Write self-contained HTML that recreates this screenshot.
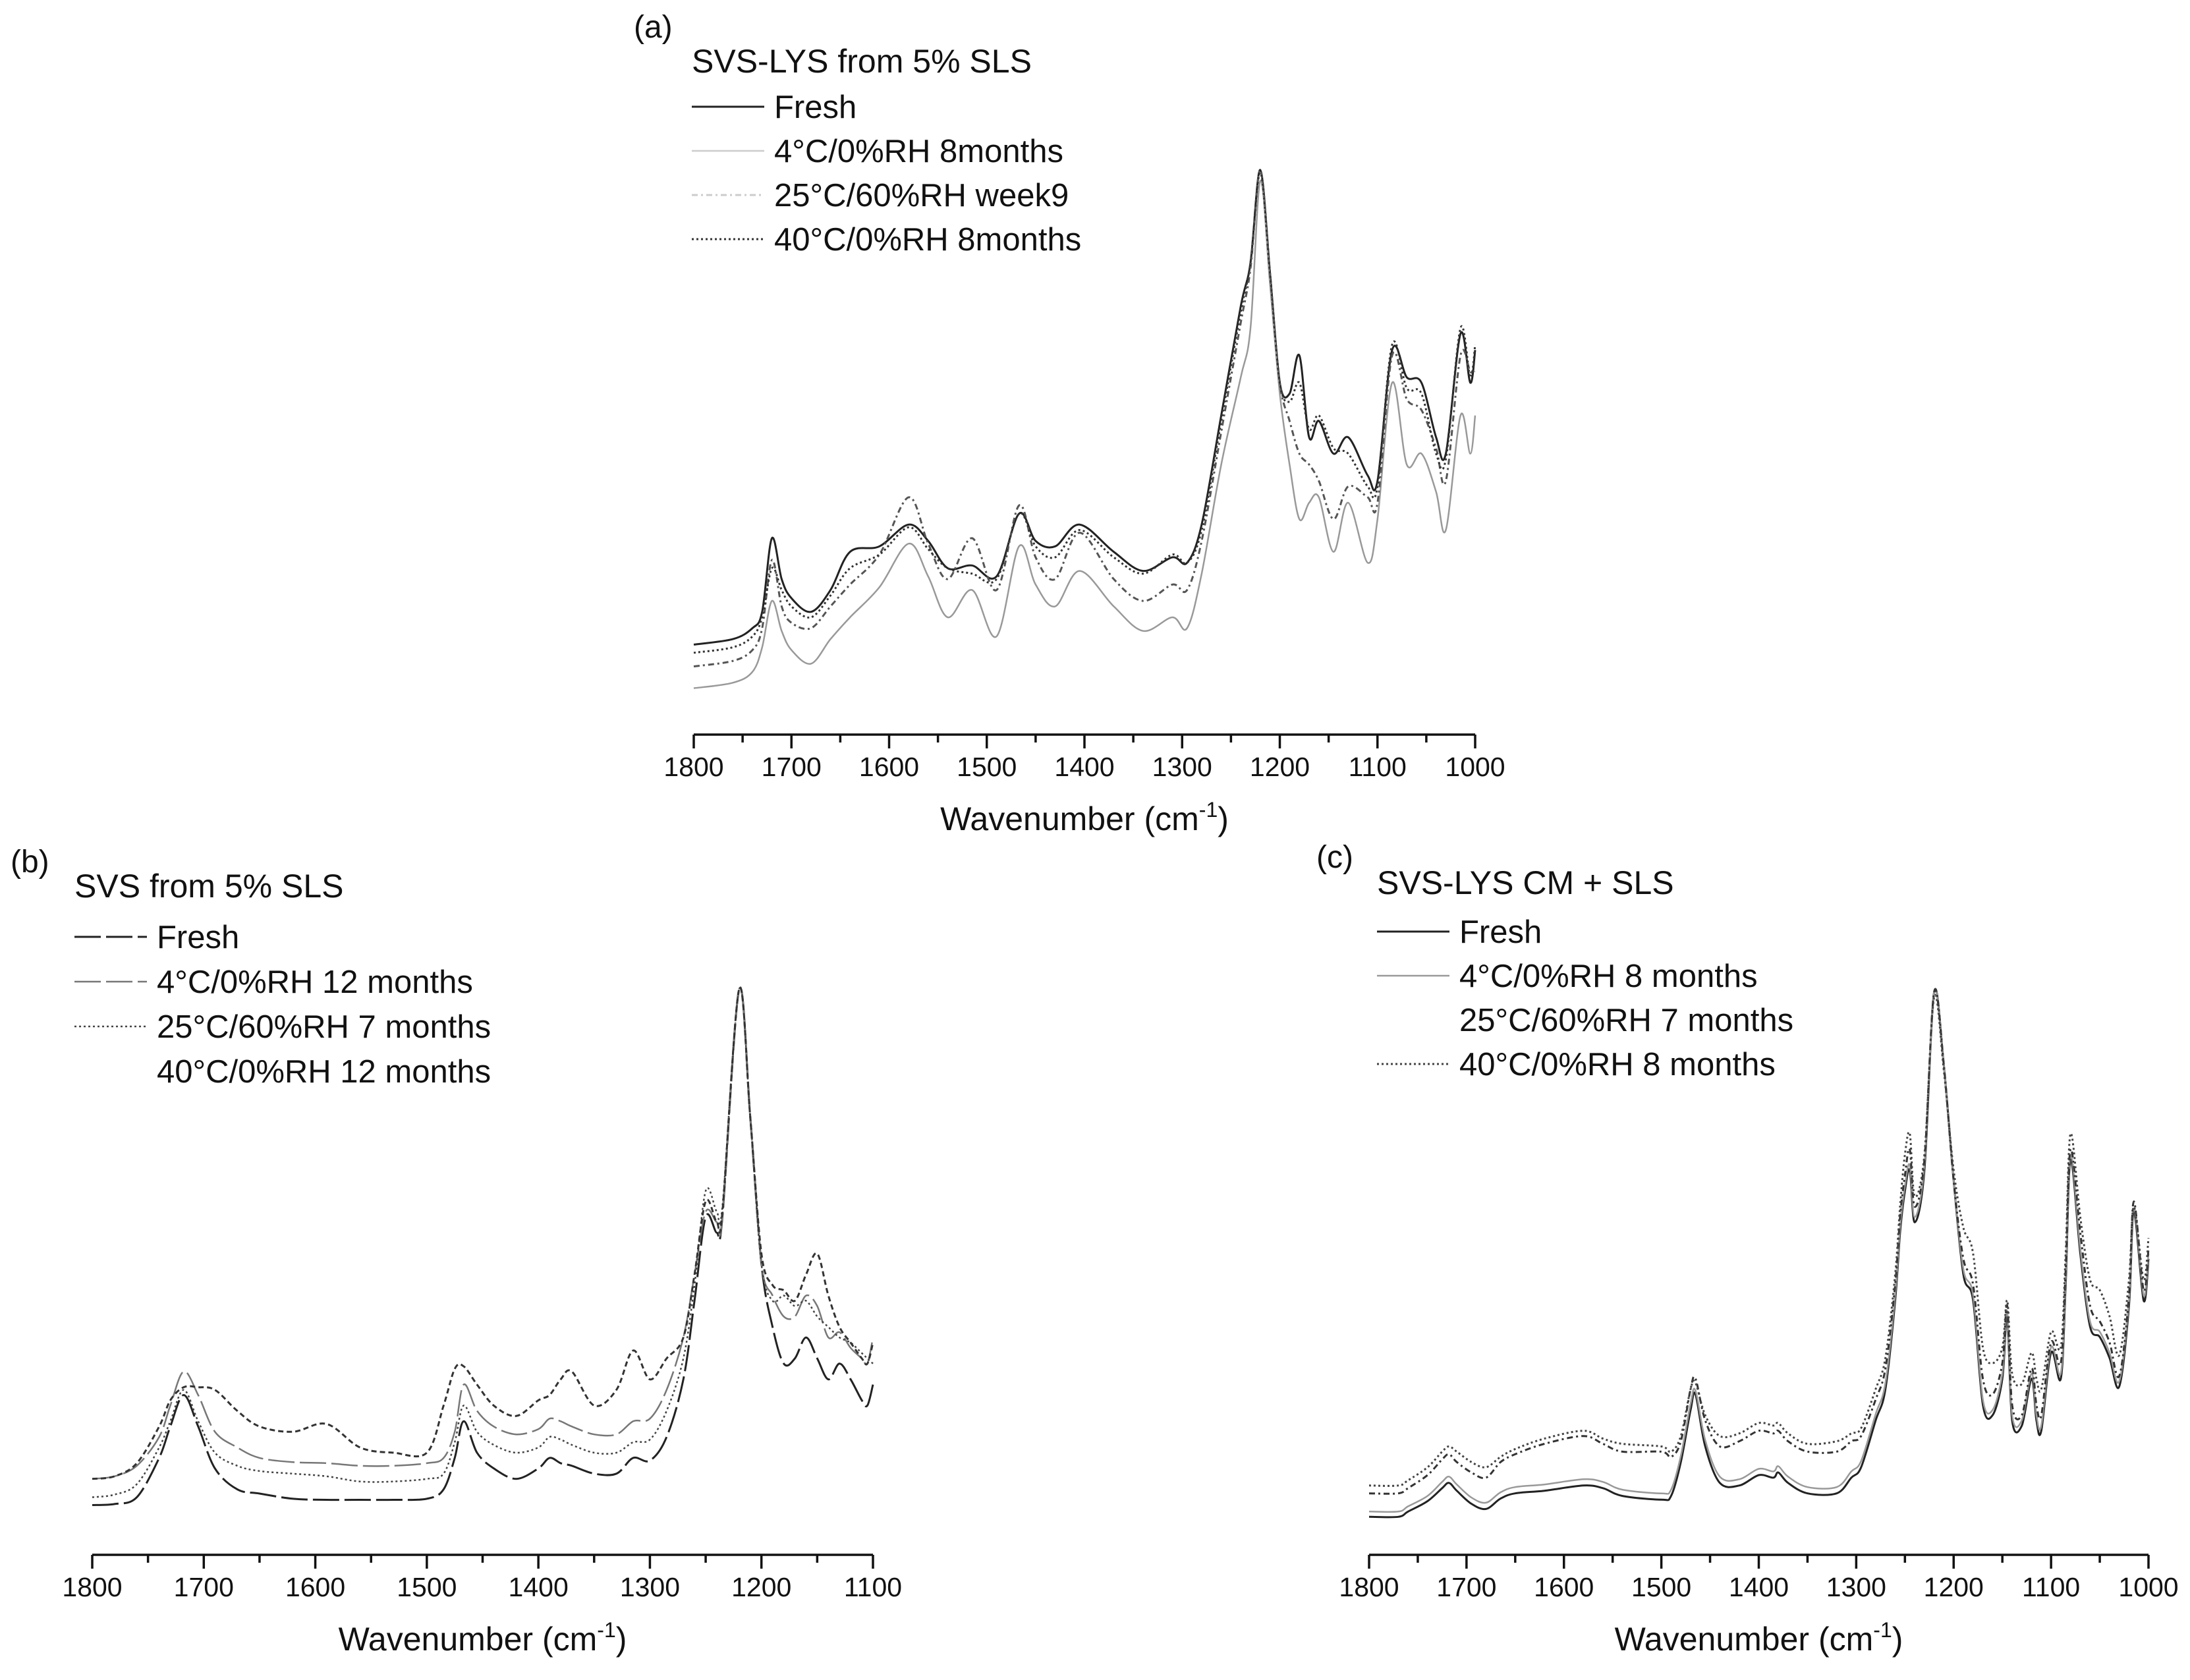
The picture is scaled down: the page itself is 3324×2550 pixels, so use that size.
<!DOCTYPE html>
<html><head><meta charset="utf-8"><style>
html,body{margin:0;padding:0;background:#fff;}
svg{display:block;}
text{font-family:"Liberation Sans",Arial,sans-serif;fill:#111;}
</style></head><body>
<svg id="fig" width="3324" height="2550" viewBox="0 0 3324 2550" xmlns="http://www.w3.org/2000/svg">
<rect width="3324" height="2550" fill="#fff"/>
</svg>
<script>
// ---------- Panel (a) data ----------
const xA = [1800,1760,1740,1730,1720,1710,1700,1680,1660,1640,1610,1580,1560,1540,1515,1490,1467,1450,1430,1405,1370,1340,1310,1295,1280,1260,1240,1230,1220,1210,1200,1190,1180,1170,1160,1145,1130,1110,1100,1085,1070,1055,1040,1030,1015,1005,1000];
const aFresh = [165,175,195,225,360,285,250,225,265,335,345,385,355,305,310,290,405,355,345,385,335,300,325,315,385,585,785,865,1035,845,645,625,695,545,575,515,545,475,465,705,655,645,545,515,735,645,705];
const a4C = [85,95,115,160,245,190,155,130,175,215,270,350,290,215,265,180,345,275,235,300,235,190,215,195,295,495,655,745,1015,825,625,495,395,425,435,335,425,315,395,645,495,515,445,375,585,515,585];
const a25C = [125,135,155,195,320,235,205,195,235,275,330,435,350,285,360,265,420,325,285,370,285,245,275,265,355,555,755,855,1035,845,645,575,515,495,465,395,455,435,425,695,615,595,525,465,695,665,665];
const a40C = [150,160,180,215,305,265,235,215,255,305,330,380,340,305,295,285,405,345,325,375,325,295,330,315,375,575,775,865,1030,845,645,610,645,560,585,525,515,455,455,715,635,625,515,505,745,655,715];
const ticksA = [1800,1700,1600,1500,1400,1300,1200,1100,1000];
const legendA = ["Fresh","4°C/0%RH 8months","25°C/60%RH week9","40°C/0%RH 8months"];

// ---------- Panel (b) data ----------
const xB = [1800,1780,1760,1740,1730,1718,1705,1690,1670,1650,1620,1590,1560,1530,1500,1485,1475,1467,1455,1440,1420,1400,1390,1380,1370,1350,1330,1315,1300,1285,1270,1260,1250,1240,1235,1220,1210,1200,1190,1180,1170,1160,1150,1140,1130,1120,1110,1105,1100];
const bFresh = [95,97,110,185,245,305,245,165,125,117,107,105,105,105,107,125,185,255,195,165,145,165,185,175,170,155,155,185,180,225,335,485,645,615,645,1080,835,555,435,365,375,415,375,335,365,335,295,285,325];
const b4C = [145,150,170,225,285,350,305,235,205,185,177,175,170,170,175,185,235,325,275,245,230,240,260,255,245,230,230,255,260,315,415,535,655,635,645,1080,835,555,495,455,455,495,475,415,425,395,375,365,415];
const b25C = [110,115,135,205,255,315,255,195,170,160,155,150,140,140,145,155,215,285,235,210,195,205,225,220,210,195,195,215,220,275,375,515,695,655,665,1080,835,555,485,495,475,485,455,435,415,405,385,375,365];
const b40C = [145,150,175,245,295,320,320,315,275,245,235,250,205,195,195,285,355,360,325,285,265,295,305,335,350,285,315,390,335,375,415,535,675,635,655,1080,835,575,515,505,485,535,575,495,435,405,375,365,405];
const ticksB = [1800,1700,1600,1500,1400,1300,1200,1100];
const legendB = ["Fresh","4°C/0%RH 12 months","25°C/60%RH 7 months","40°C/0%RH 12 months"];

// ---------- Panel (c) data ----------
const xC = [1800,1770,1760,1740,1725,1718,1710,1695,1680,1665,1650,1620,1580,1560,1540,1500,1490,1480,1470,1465,1455,1440,1420,1400,1385,1380,1370,1350,1320,1305,1295,1280,1270,1260,1255,1250,1245,1240,1230,1220,1210,1200,1190,1180,1170,1160,1150,1145,1140,1130,1120,1115,1110,1100,1090,1085,1080,1070,1060,1050,1040,1030,1020,1015,1005,1000];
const cFresh = [73,73,83,103,128,138,123,98,88,108,118,123,133,128,113,106,113,178,278,308,208,138,133,153,148,158,138,118,118,148,168,258,318,488,618,698,738,638,738,1080,938,718,538,488,288,268,338,458,258,248,338,258,238,388,338,518,758,578,438,418,378,323,478,658,488,568];
const c4C = [83,83,93,113,140,150,135,110,100,120,130,135,145,140,125,118,125,190,290,315,220,150,145,165,160,170,150,130,130,160,180,270,330,498,628,708,748,648,748,1080,938,718,548,498,298,278,348,468,268,258,348,268,248,398,348,528,768,588,448,428,388,333,488,665,498,578];
const c25C = [118,118,128,153,183,193,178,158,148,178,193,213,228,213,198,198,188,218,318,338,258,208,218,238,233,238,218,198,198,218,228,298,358,518,648,728,778,668,758,1080,938,718,568,518,338,308,368,478,288,268,358,288,268,408,368,548,778,618,478,448,408,343,498,678,508,588];
const c40C = [133,133,143,168,198,208,198,178,168,188,203,223,238,223,213,208,198,228,318,330,268,228,233,253,248,253,233,213,218,233,243,318,378,538,668,768,808,688,768,1070,928,738,628,578,398,368,398,488,348,328,388,338,318,428,398,578,808,648,528,508,458,383,528,668,528,608];
const ticksC = [1800,1700,1600,1500,1400,1300,1200,1100,1000];
const legendC = ["Fresh","4°C/0%RH 8 months","25°C/60%RH 7 months","40°C/0%RH 8 months"];

const NS = "http://www.w3.org/2000/svg";
const svg = document.getElementById('fig');
function mk(tag, attrs, parent){
  const e = document.createElementNS(NS, tag);
  for (const k in attrs) e.setAttribute(k, attrs[k]);
  (parent||svg).appendChild(e);
  return e;
}
function smoothPath(pts){
  let d = "M" + pts[0][0].toFixed(1) + "," + pts[0][1].toFixed(1);
  for (let i=0;i<pts.length-1;i++){
    const p0 = pts[Math.max(0,i-1)], p1 = pts[i], p2 = pts[i+1], p3 = pts[Math.min(pts.length-1,i+2)];
    const c1x = p1[0] + (p2[0]-p0[0])/6, c1y = p1[1] + (p2[1]-p0[1])/6;
    const c2x = p2[0] - (p3[0]-p1[0])/6, c2y = p2[1] - (p3[1]-p1[1])/6;
    d += " C" + c1x.toFixed(1)+","+c1y.toFixed(1)+" "+c2x.toFixed(1)+","+c2y.toFixed(1)+" "+p2[0].toFixed(1)+","+p2[1].toFixed(1);
  }
  return d;
}

function drawPanel(cfg){
  const g = mk('g', {});
  
  
  const xs = v => cfg.x0 + (cfg.xmax - v) / (cfg.xmax - cfg.xmin) * (cfg.x1 - cfg.x0);
  const ys = v => cfg.axisY - v * cfg.k;

  const ax = mk('line', {x1:cfg.x0, y1:cfg.axisY, x2:cfg.x1, y2:cfg.axisY, stroke:'#111','stroke-width':3.5}, g);
  
  
  for (let v = cfg.xmax; v >= cfg.xmin; v -= 50){
    const major = (v % 100 === 0);
    const t = mk('line', {x1:xs(v), y1:cfg.axisY, x2:xs(v), y2:cfg.axisY + (major?21:12), stroke:'#111','stroke-width':3.5}, g);
    
    
  }
  cfg.ticks.forEach(v => {
    const t = mk('text', {x:xs(v), y:cfg.axisY + 63, 'font-size':41, 'text-anchor':'middle'}, g);
    t.textContent = v;
    
    
  });
  const title = mk('text', {x:(cfg.x0+cfg.x1)/2, y:cfg.axisY + 145, 'font-size':50, 'text-anchor':'middle'}, g);
  
  
  title.appendChild(document.createTextNode('Wavenumber (cm'));
  const sup = mk('tspan', {dy:-20, 'font-size':32}, title);
  sup.textContent = '-1';
  const cl = mk('tspan', {dy:20}, title);
  cl.textContent = ')';

  const pl = mk('text', {x:cfg.letterX, y:cfg.letterY, 'font-size':48}, g);
  pl.textContent = cfg.letter;
  
  

  cfg.series.forEach((s, si) => {
    const pts = cfg.xs.map((xv, i) => [xs(xv), ys(s.values[i])]);
    const p = mk('path', {d:smoothPath(pts), fill:'none', stroke:s.color, 'stroke-width':s.w, 'stroke-dasharray':s.dash, 'stroke-linejoin':'round'}, g);
    
    
  });

  const lt = mk('text', {x:cfg.legX, y:cfg.legTitleY, 'font-size':50}, g);
  lt.textContent = cfg.legTitle;
  
  
  cfg.series.forEach((s, i) => {
    const ly = cfg.legY0 + i * cfg.legStep;
    const l = mk('line', {x1:cfg.legX, y1:ly, x2:cfg.legX + 110, y2:ly, stroke:s.legColor || s.color, 'stroke-width':s.w, 'stroke-dasharray':s.dash}, g);
    
    
    const t = mk('text', {x:cfg.legX + 125, y:ly + 17, 'font-size':49}, g);
    t.textContent = cfg.legend[i];
    
    
  });
}

drawPanel({name:'panel-a', letter:'(a)', letterX:962, letterY:57,
  x0:1053, x1:2239, xmax:1800, xmin:1000, axisY:1115, k:0.828, xs:xA, ticks:ticksA,
  legX:1050, legTitle:'SVS-LYS from 5% SLS', legTitleY:110, legY0:162, legStep:67, legend:legendA,
  series:[
    {id:'fresh', values:aFresh, color:'#222', w:3, dash:'none'},
    {id:'4c', values:a4C, color:'#999', w:2.5, dash:'none', legColor:'#ccc'},
    {id:'25c', values:a25C, color:'#555', w:3, dash:'9,5,3,5', legColor:'#ccc'},
    {id:'40c', values:a40C, color:'#333', w:3, dash:'3,4'}
  ]});

drawPanel({name:'panel-b', letter:'(b)', letterX:16, letterY:1324,
  x0:140, x1:1325, xmax:1800, xmin:1100, axisY:2360, k:0.795, xs:xB, ticks:ticksB,
  legX:113, legTitle:'SVS from 5% SLS', legTitleY:1362, legY0:1422, legStep:68, legend:legendB,
  series:[
    {id:'fresh', values:bFresh, color:'#222', w:3, dash:'40,8'},
    {id:'4c', values:b4C, color:'#777', w:2.5, dash:'40,8'},
    {id:'25c', values:b25C, color:'#444', w:2.5, dash:'3,4'},
    {id:'40c', values:b40C, color:'#333', w:3, dash:'8,5', legColor:'#fff'}
  ]});

drawPanel({name:'panel-c', letter:'(c)', letterX:1998, letterY:1317,
  x0:2078, x1:3261, xmax:1800, xmin:1000, axisY:2360, k:0.791, xs:xC, ticks:ticksC,
  legX:2090, legTitle:'SVS-LYS CM + SLS', legTitleY:1357, legY0:1414, legStep:67, legend:legendC,
  series:[
    {id:'fresh', values:cFresh, color:'#222', w:3, dash:'none'},
    {id:'4c', values:c4C, color:'#999', w:2.5, dash:'none'},
    {id:'25c', values:c25C, color:'#333', w:3, dash:'9,5,3,5', legColor:'#fff'},
    {id:'40c', values:c40C, color:'#444', w:3, dash:'3,4'}
  ]});
</script>
</body></html>
